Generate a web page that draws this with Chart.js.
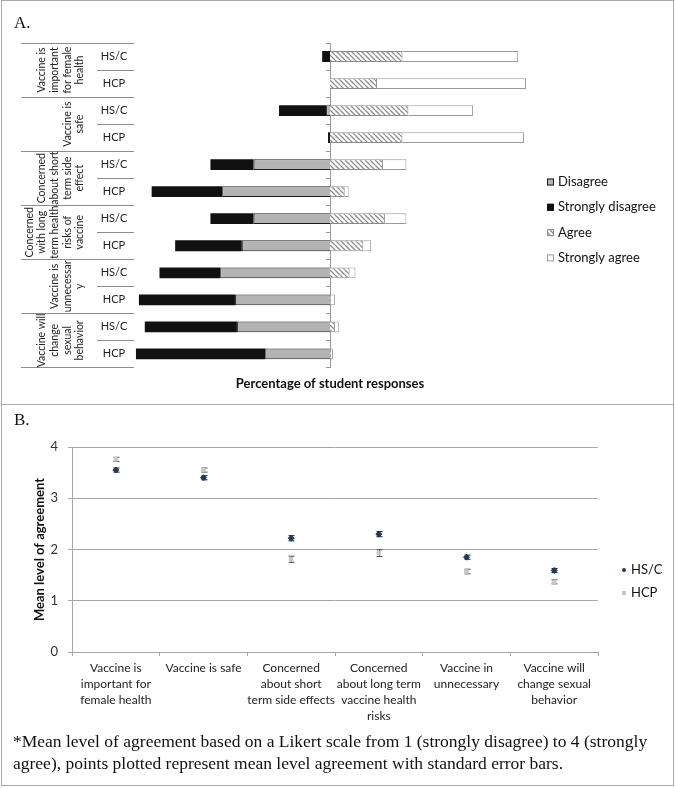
<!DOCTYPE html>
<html>
<head>
<meta charset="utf-8">
<script src="https://cdn.jsdelivr.net/npm/chart.js@4.4.0/dist/chart.umd.min.js"></script>
<style>
  body { margin: 0; background: #fff; }
  #frame { position: absolute; left: 1px; top: 0; width: 673px; height: 786px; box-sizing: border-box; border: 1px solid #a9a9a9; }
  #sep { position: absolute; left: 1px; top: 404px; width: 673px; height: 1px; background: #a9a9a9; }
  #cA { position: absolute; left: 0; top: 0; }
  #cB { position: absolute; left: 0; top: 405px; }
  .panel { position: absolute; left: 14px; font-family: "Liberation Serif", serif; font-size: 17px; color: #111; }
  #note { position: absolute; left: 13px; top: 730px; width: 655px; font-family: "Liberation Serif", serif; font-size: 17.5px; line-height: 22px; color: #111; }
</style>
</head>
<body>
<div id="frame"></div>
<div id="sep"></div>
<canvas id="cA" width="675" height="404"></canvas>
<canvas id="cB" width="675" height="330"></canvas>
<div class="panel" style="top:13px">A.</div>
<div class="panel" style="top:410px">B.</div>
<div id="note">*Mean level of agreement based on a Likert scale from 1 (strongly disagree) to 4 (strongly agree), points plotted represent mean level agreement with standard error bars.</div>
<script>
// ---- panel A: percentage of student responses ----
const rowLabels = ['HS/C', 'HCP', 'HS/C', 'HCP', 'HS/C', 'HCP', 'HS/C', 'HCP', 'HS/C', 'HCP', 'HS/C', 'HCP'];
const groupLabels = [
  ['Vaccine is', 'important', 'for female', 'health'],
  ['Vaccine is', 'safe'],
  ['Concerned', 'about short', 'term side', 'effect'],
  ['Concerned', 'with long', 'term health', 'risks of', 'vaccine'],
  ['Vaccine is', 'unnecessar', 'y'],
  ['Vaccine will', 'change', 'sexual', 'behavior']
];
const disagree = [0, 0, -2, 0, -39, -55, -39, -45, -56, -48.5, -47.5, -33];
const stronglyDisagree = [-4, 0, -24, -1, -22, -36, -22, -34, -31, -49, -47, -66];
const agree = [37, 24, 40, 37, 27, 7.5, 28, 17, 10, 0.5, 2.5, 0.5];
const stronglyAgree = [59, 76, 33, 62, 12, 2, 11, 4, 3, 2, 2, 1];

// ---- panel B: mean level of agreement ----
const statements = [
  ['Vaccine is', 'important for', 'female health'],
  ['Vaccine is safe'],
  ['Concerned', 'about short', 'term side effects'],
  ['Concerned', 'about long term', 'vaccine health', 'risks'],
  ['Vaccine in', 'unnecessary'],
  ['Vaccine will', 'change sexual', 'behavior']
];
const hscMean = [3.55, 3.40, 2.22, 2.30, 1.85, 1.59];
const hscErr = [0.04, 0.04, 0.05, 0.05, 0.04, 0.04];
const hcpMean = [3.76, 3.55, 1.81, 1.93, 1.57, 1.37];
const hcpErr = [0.04, 0.04, 0.06, 0.065, 0.045, 0.04];
const yTicks = [0, 1, 2, 3, 4];

const FONT = 'Lato';

function hatch() {
  const c = document.createElement('canvas');
  c.width = c.height = 5;
  const g = c.getContext('2d');
  g.fillStyle = '#fff';
  g.fillRect(0, 0, 5, 5);
  g.strokeStyle = '#8c8c8c';
  g.lineWidth = 1.3;
  g.beginPath();
  for (const o of [-5, 0, 5]) { g.moveTo(o, 0); g.lineTo(o + 5, 5); }
  g.stroke();
  return g.createPattern(c, 'repeat');
}

// table on the left + legend on the right
const tablePlugin = {
  id: 'table',
  afterDraw(chart) {
    const {ctx} = chart;
    const y = chart.scales.y;
    const rowH = y.getPixelForValue(1) - y.getPixelForValue(0);
    ctx.save();
    ctx.strokeStyle = '#8c8c8c';
    ctx.lineWidth = 1;
    ctx.fillStyle = '#222';
    ctx.font = '11px ' + FONT;
    ctx.textAlign = 'center';
    ctx.textBaseline = 'middle';
    rowLabels.forEach((lab, i) => {
      const yc = y.getPixelForValue(i);
      ctx.fillText(lab, 114, yc);
      const yb = Math.round(yc + rowH / 2) + 0.5;
      ctx.beginPath();
      ctx.moveTo(i % 2 ? 21 : 97, yb);
      ctx.lineTo(134, yb);
      ctx.stroke();
      if (i === 0) {
        const yt = Math.round(yc - rowH / 2) + 0.5;
        ctx.beginPath(); ctx.moveTo(21, yt); ctx.lineTo(134, yt); ctx.stroke();
      }
    });
    ctx.font = '10.5px ' + FONT;
    groupLabels.forEach((lines, g) => {
      const yc = (y.getPixelForValue(2 * g) + y.getPixelForValue(2 * g + 1)) / 2;
      lines.forEach((t, k) => {
        const x = 80 - (lines.length - 1 - k) * 12.7;
        ctx.save();
        ctx.translate(x, yc);
        ctx.rotate(-Math.PI / 2);
        ctx.fillText(t, 0, 0);
        ctx.restore();
      });
    });
    // legend
    ctx.textAlign = 'left';
    ctx.font = '13px ' + FONT;
    chart.data.datasets.forEach((ds, i) => {
      const ly = 182 + i * 25.3;
      ctx.fillStyle = ds.backgroundColor;
      ctx.fillRect(547, ly - 3.5, 7, 7);
      ctx.strokeStyle = ds.borderColor || '#111';
      ctx.strokeRect(547.5, ly - 3, 6, 6);
      ctx.fillStyle = '#111';
      ctx.fillText(ds.label, 558, ly);
    });
    ctx.restore();
  }
};

new Chart(document.getElementById('cA').getContext('2d'), {
  type: 'bar',
  data: {
    labels: rowLabels,
    datasets: [
      { label: 'Disagree', data: disagree, backgroundColor: '#b3b3b3', borderColor: '#1a1a1a', borderWidth: 1 },
      { label: 'Strongly disagree', data: stronglyDisagree, backgroundColor: '#111', borderColor: '#111', borderWidth: 0 },
      { label: 'Agree', data: agree, backgroundColor: hatch(), borderColor: '#8a8a8a', borderWidth: 1 },
      { label: 'Strongly agree', data: stronglyAgree, backgroundColor: '#fff', borderColor: '#9a9a9a', borderWidth: 1 }
    ]
  },
  options: {
    responsive: false,
    animation: false,
    indexAxis: 'y',
    barPercentage: 0.4,
    categoryPercentage: 1,
    layout: { padding: { left: 134, right: 149, top: 43, bottom: 12 } },
    plugins: { legend: { display: false }, tooltip: { enabled: false } },
    scales: {
      x: {
        stacked: true, min: -100, max: 100,
        grid: { display: false }, border: { display: false }, ticks: { display: false },
        title: { display: true, text: 'Percentage of student responses', color: '#111',
                 font: { family: FONT, size: 13, weight: 'bold' }, padding: { top: 1, bottom: 0 } }
      },
      y: {
        stacked: true, position: { x: 0 },
        ticks: { display: false },
        grid: { drawOnChartArea: false, tickLength: 4, color: '#9a9a9a', offset: true },
        border: { color: '#9a9a9a' }
      }
    }
  },
  plugins: [tablePlugin]
});

// error bars + legend for panel B
const errPlugin = {
  id: 'errbars',
  beforeDatasetsDraw(chart) {
    const {ctx} = chart;
    const xs = chart.scales.x, ys = chart.scales.y;
    const sets = [[hscMean, hscErr, '#1a1a1a'], [hcpMean, hcpErr, '#4d4d4d']];
    ctx.save();
    ctx.lineWidth = 1;
    sets.forEach(([m, e, col]) => {
      ctx.strokeStyle = col;
      m.forEach((v, i) => {
        const x = Math.round(xs.getPixelForValue(i)) + 0.5;
        const y1 = ys.getPixelForValue(v + e[i]), y2 = ys.getPixelForValue(v - e[i]);
        ctx.beginPath();
        ctx.moveTo(x, y1); ctx.lineTo(x, y2);
        ctx.moveTo(x - 3, y1); ctx.lineTo(x + 3, y1);
        ctx.moveTo(x - 3, y2); ctx.lineTo(x + 3, y2);
        ctx.stroke();
      });
    });
    ctx.restore();
  },
  afterDraw(chart) {
    const {ctx} = chart;
    ctx.save();
    ctx.font = '13px ' + FONT;
    ctx.textBaseline = 'middle';
    ctx.textAlign = 'left';
    chart.data.datasets.forEach((ds, i) => {
      const ly = 165 + i * 23;
      ctx.fillStyle = ds.backgroundColor;
      if (i === 0) { ctx.beginPath(); ctx.arc(624, ly, 2, 0, Math.PI * 2); ctx.fill(); }
      else ctx.fillRect(622, ly - 2, 4, 4);
      ctx.fillStyle = '#111';
      ctx.fillText(ds.label, 631, ly);
    });
    ctx.restore();
  }
};

new Chart(document.getElementById('cB').getContext('2d'), {
  type: 'line',
  data: {
    labels: statements,
    datasets: [
      { label: 'HS/C', data: hscMean, showLine: false, pointStyle: 'rectRot', pointRadius: 3,
        backgroundColor: '#1f3864', borderColor: '#1f3864', borderWidth: 1 },
      { label: 'HCP', data: hcpMean, showLine: false, pointStyle: 'rect', pointRadius: 2.5,
        backgroundColor: '#c8c8c8', borderColor: '#c8c8c8', borderWidth: 1 }
    ]
  },
  options: {
    responsive: false,
    animation: false,
    layout: { padding: { left: 30, right: 77, top: 42, bottom: 13 } },
    plugins: { legend: { display: false }, tooltip: { enabled: false } },
    scales: {
      x: {
        offset: true,
        grid: { offset: true, drawOnChartArea: false, tickLength: 4, color: '#a6a6a6' },
        border: { color: '#a6a6a6' },
        ticks: { autoSkip: false, maxRotation: 0, padding: 4, color: '#222',
                 font: { family: FONT, size: 12, lineHeight: 1.333 } },
        afterFit: s => { s.height = 70; }
      },
      y: {
        min: 0, max: 4,
        afterBuildTicks: s => { s.ticks = yTicks.map(v => ({ value: v })); },
        grid: { color: '#a6a6a6', tickLength: 4 },
        border: { color: '#a6a6a6' },
        ticks: { padding: 10, color: '#333', font: { family: FONT, size: 13 } },
        title: { display: true, text: 'Mean level of agreement', color: '#111',
                 font: { family: FONT, size: 13, weight: 'bold' }, padding: { top: 2, bottom: 0 } },
        afterFit: s => { s.width = 42; }
      }
    }
  },
  plugins: [errPlugin]
});
</script>
</body>
</html>
